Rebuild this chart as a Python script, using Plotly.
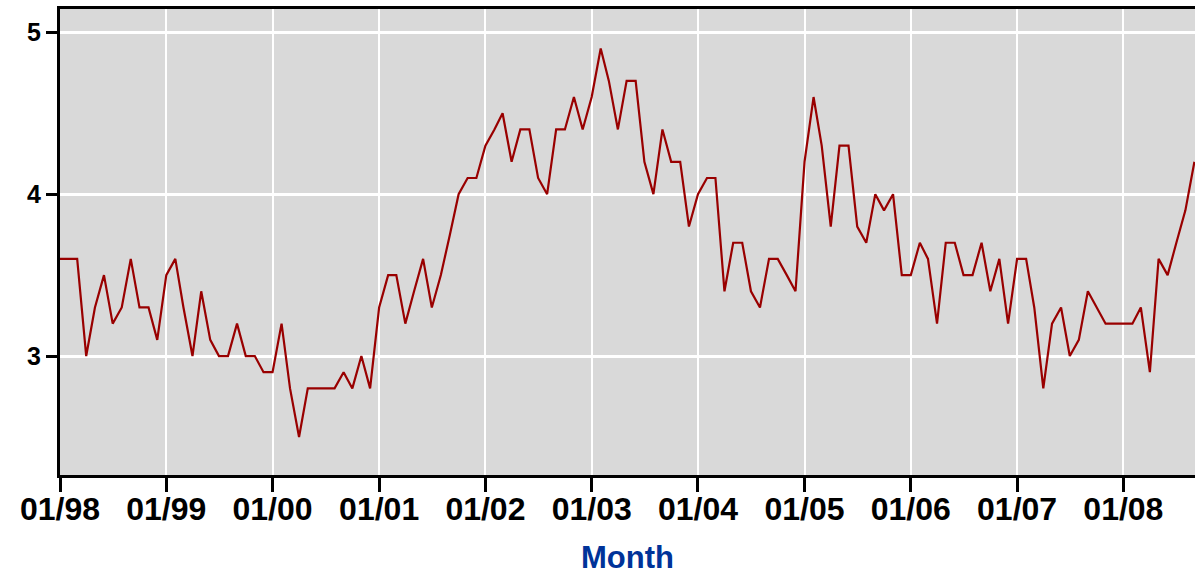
import plotly.graph_objects as go
import pandas as pd

# ---- data ----
start_month = "1998-01-01"
values = [
    3.6, 3.6, 3.6, 3.0, 3.3, 3.5, 3.2, 3.3, 3.6, 3.3, 3.3, 3.1,   # 1998
    3.5, 3.6, 3.3, 3.0, 3.4, 3.1, 3.0, 3.0, 3.2, 3.0, 3.0, 2.9,   # 1999
    2.9, 3.2, 2.8, 2.5, 2.8, 2.8, 2.8, 2.8, 2.9, 2.8, 3.0, 2.8,   # 2000
    3.3, 3.5, 3.5, 3.2, 3.4, 3.6, 3.3, 3.5, 3.75, 4.0, 4.1, 4.1,  # 2001
    4.3, 4.4, 4.5, 4.2, 4.4, 4.4, 4.1, 4.0, 4.4, 4.4, 4.6, 4.4,   # 2002
    4.6, 4.9, 4.7, 4.4, 4.7, 4.7, 4.2, 4.0, 4.4, 4.2, 4.2, 3.8,   # 2003
    4.0, 4.1, 4.1, 3.4, 3.7, 3.7, 3.4, 3.3, 3.6, 3.6, 3.5, 3.4,   # 2004
    4.2, 4.6, 4.3, 3.8, 4.3, 4.3, 3.8, 3.7, 4.0, 3.9, 4.0, 3.5,   # 2005
    3.5, 3.7, 3.6, 3.2, 3.7, 3.7, 3.5, 3.5, 3.7, 3.4, 3.6, 3.2,   # 2006
    3.6, 3.6, 3.3, 2.8, 3.2, 3.3, 3.0, 3.1, 3.4, 3.3, 3.2, 3.2,   # 2007
    3.2, 3.2, 3.3, 2.9, 3.6, 3.5, 3.7, 3.9, 4.2,                  # 2008
]
tick_dates = ["1998-01-01", "1999-01-01", "2000-01-01", "2001-01-01",
              "2002-01-01", "2003-01-01", "2004-01-01", "2005-01-01",
              "2006-01-01", "2007-01-01", "2008-01-01"]
tick_labels = ["01/98", "01/99", "01/00", "01/01", "01/02", "01/03",
               "01/04", "01/05", "01/06", "01/07", "01/08"]
y_ticks = [3, 4, 5]
y_labels = ["3", "4", "5"]
x_title = "Month"

months = pd.date_range(start=start_month, periods=len(values), freq="MS")

font_family = "Liberation Sans, Arial, sans-serif"

fig = go.Figure()
fig.add_trace(go.Scatter(
    x=months, y=values, mode="lines",
    line=dict(color="#990000", width=2.2),
    hoverinfo="x+y", showlegend=False,
))

fig.update_layout(
    width=1195, height=575,
    margin=dict(l=60, r=0, t=9, b=100),
    paper_bgcolor="white",
    plot_bgcolor="#d9d9d9",
    xaxis=dict(
        type="date",
        range=["1998-01-01", "2008-09-03"],
        tickvals=tick_dates, ticktext=tick_labels,
        tickangle=0,
        ticks="outside", ticklen=14, tickwidth=3, tickcolor="black",
        ticklabelstandoff=-10,
        tickfont=dict(family=font_family, size=32, color="black", weight="bold"),
        showline=True, linecolor="black", linewidth=3, mirror=True,
        showgrid=True, gridcolor="white", gridwidth=2,
        zeroline=False,
        automargin=False,
        title=dict(text=x_title, standoff=21,
                   font=dict(family=font_family, size=31, color="#003399", weight="bold")),
    ),
    yaxis=dict(
        range=[2.265, 5.144],
        tickvals=y_ticks, ticktext=y_labels,
        ticks="outside", ticklen=11, tickwidth=3, tickcolor="black",
        tickfont=dict(family=font_family, size=25, color="black", weight="bold"),
        showline=True, linecolor="black", linewidth=3, mirror=False,
        showgrid=True, gridcolor="white", gridwidth=3,
        zeroline=False,
        automargin=False,
    ),
)

fig.write_html(
    "out.html",
    config={"displayModeBar": False},
    post_script="document.body.style.margin='0';document.body.style.overflow='hidden';",
)
